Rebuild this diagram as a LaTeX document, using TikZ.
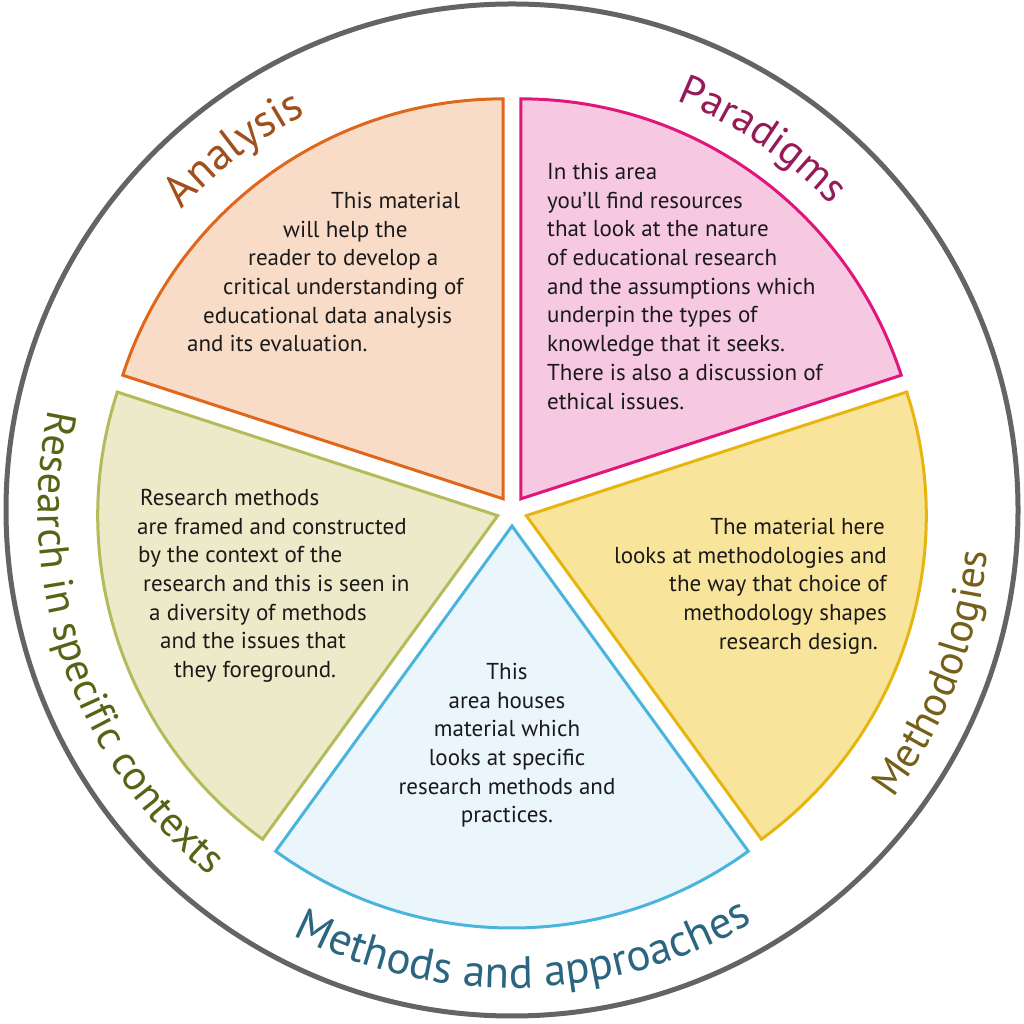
\documentclass[tikz,border=0pt]{standalone}
\usepackage{fontspec}
\setmainfont{PT Sans}
\usetikzlibrary{decorations.text,calc}
\definecolor{ringgray}{HTML}{646464}
\definecolor{anaF}{HTML}{F9DCC8}\definecolor{anaD}{HTML}{E0661A}\definecolor{anaT}{HTML}{A0501C}
\definecolor{parF}{HTML}{F7C8E1}\definecolor{parD}{HTML}{E0167A}\definecolor{parT}{HTML}{961A58}
\definecolor{metF}{HTML}{F9E49B}\definecolor{metD}{HTML}{E6B510}\definecolor{metT}{HTML}{75601A}
\definecolor{mapF}{HTML}{EAF5FC}\definecolor{mapD}{HTML}{4BB4DC}\definecolor{mapT}{HTML}{2B6580}
\definecolor{resF}{HTML}{ECEAC8}\definecolor{resD}{HTML}{B4BB5A}\definecolor{resT}{HTML}{596316}
\definecolor{bodytext}{HTML}{1A1A1A}
\newcommand\ttlfont{\fontsize{42}{42}\selectfont}
\newcommand\ttlbig{\fontsize{45}{45}\selectfont}
\begin{document}
\begin{tikzpicture}[x=1pt,y=1pt,
  wedge/.style={line width=3pt},
  body/.style={inner sep=0pt, font=\fontsize{23}{28.7}\selectfont, text=bodytext},
  ttl/.style={decorate, decoration={text along path, text align=center, text color=#1}}]
\useasboundingbox (0,0) rectangle (1024,1024);
\coordinate (C) at (512,513);
\draw[draw=ringgray, line width=5pt] (512,514) circle[radius=506];
% wedges
\draw[wedge, draw=anaD, fill=anaF] ($(C)+(126:15)$) -- ++(90:400) arc[start angle=90, end angle=162, radius=400] -- cycle;
\draw[wedge, draw=parD, fill=parF] ($(C)+(54:15)$) -- ++(18:400) arc[start angle=18, end angle=90, radius=400] -- cycle;
\draw[wedge, draw=metD, fill=metF] ($(C)+(-18:15)$) -- ++(-54:400) arc[start angle=-54, end angle=18, radius=400] -- cycle;
\draw[wedge, draw=mapD, fill=mapF] ($(C)+(270:15)$) -- ++(234:402) arc[start angle=234, end angle=306, radius=402] -- cycle;
\draw[wedge, draw=resD, fill=resF] ($(C)+(198:15)$) -- ++(162:400) arc[start angle=162, end angle=234, radius=400] -- cycle;
% titles
\path[ttl=anaT, decoration={text={|\ttlbig|Analysis}}] ($(C)+(162:447)$) arc[start angle=162, end angle=93, radius=447];
\path[ttl=parT, decoration={text={|\ttlfont|Paradigms}}] ($(C)+(90:442)$) arc[start angle=90, end angle=22, radius=442];
\path[ttl=metT, decoration={text={|\ttlfont|Methodologies}}] ($(C)+(-60:477)$) arc[start angle=-60, end angle=18, radius=477];
\path[ttl=mapT, decoration={text={|\ttlbig|Methods and approaches}}] ($(C)+(225:477)$) arc[start angle=225, end angle=318, radius=477];
\path[ttl=resT, decoration={text={|\ttlfont|Research in specific contexts}}] ($(C)+(150:474)$) arc[start angle=150, end angle=248, radius=474];
% body texts
\node[body, anchor=north west, align=left] (anatext) at (187,832) {%
\hspace*{144pt}This material\\
\hspace*{96pt}will help the\\
\hspace*{61pt}reader to develop a\\
\hspace*{36pt}critical understanding of\\
\hspace*{16pt}educational data analysis\\
and its evaluation.};
\node[body, anchor=north west, align=left] (partext) at (547,861) {%
In this area\\
you’ll find resources\\
that look at the nature\\
of educational research\\
and the assumptions which\\
underpin the types of\\
knowledge that it seeks.\\
There is also a discussion of\\
ethical issues.};
\node[body, anchor=north west, align=left] (restext) at (137,535) {%
\hspace*{3pt}Research methods\\
are framed and constructed\\
\hspace*{1pt}by the context of the\\
\hspace*{6pt}research and this is seen in\\
\hspace*{12pt}a diversity of methods\\
\hspace*{23pt}and the issues that\\
\hspace*{37pt}they foreground.};
\node[body, anchor=north east, align=right] (mettext) at (887,506) {%
The material here\hspace*{2pt}\\
looks at methodologies and\\
the way that choice of\\
methodology shapes\hspace*{3pt}\\
research design.\hspace*{9pt}};
\node[body, anchor=north, align=center] (maptext) at (507,361) {%
This\\
area houses\\
material which\\
looks at specific\\
research methods and\\
practices.};
\end{tikzpicture}
\end{document}
